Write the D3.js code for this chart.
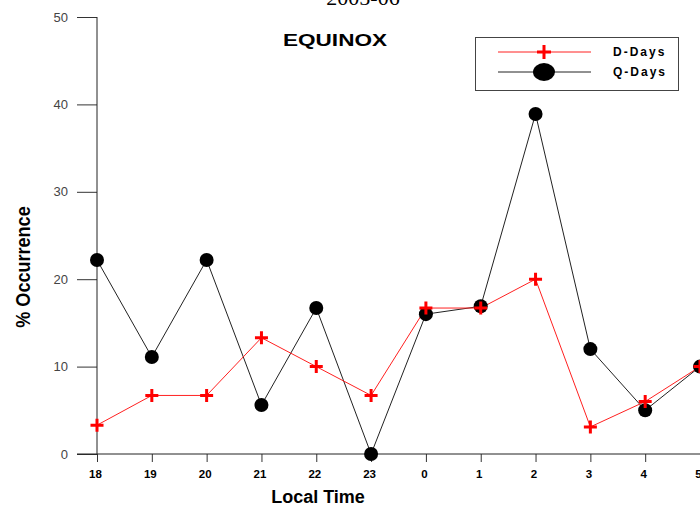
<!DOCTYPE html>
<html>
<head>
<meta charset="utf-8">
<script src="https://cdn.jsdelivr.net/npm/d3@7"></script>
<style>
body { margin: 0; background: #fff; }
svg { display: block; }
.ytick text { font-family: Arial, "Liberation Sans", sans-serif; font-size: 13px; fill: #444; }
.xtick text { font-family: Arial, "Liberation Sans", sans-serif; font-size: 11.5px; font-weight: bold; fill: #000; }
</style>
</head>
<body>
<svg></svg>
<script>
// hours along the x axis (evening through early morning)
var hours = ["18", "19", "20", "21", "22", "23", "0", "1", "2", "3", "4", "5"];
var dDays = [3.3, 6.7, 6.7, 13.3, 10, 6.7, 16.7, 16.7, 20, 3.1, 6, 10];
var qDays = [22.2, 11.1, 22.2, 5.6, 16.7, 0, 16, 16.9, 38.9, 12, 5, 10];
var yTicks = [0, 10, 20, 30, 40, 50];

var width = 700, height = 509;
var svg = d3.select("svg").attr("width", width).attr("height", height);

var x = d3.scalePoint().domain(hours).range([97, 700]);
var y = d3.scaleLinear().domain([0, 50]).range([454, 17]);

// y axis
var yAxis = svg.append("g").attr("transform", "translate(97,0)")
    .call(d3.axisLeft(y).tickValues(yTicks).tickSize(20).tickPadding(9));
yAxis.select(".domain").remove();
yAxis.selectAll(".tick").attr("class", "tick ytick");
yAxis.selectAll("line").attr("stroke", "#333");
svg.append("line").attr("x1", 97).attr("x2", 97).attr("y1", y(50)).attr("y2", y(0))
    .attr("stroke", "#222");

// x axis
var xAxis = svg.append("g").attr("transform", "translate(0,454)")
    .call(d3.axisBottom(x).tickSize(8).tickPadding(8));
xAxis.select(".domain").remove();
xAxis.selectAll(".tick").attr("class", "tick xtick");
xAxis.selectAll("line").attr("stroke", "#333");
xAxis.selectAll("text").attr("dx", -2);
svg.append("line").attr("x1", 77).attr("x2", 700).attr("y1", 454).attr("y2", 454)
    .attr("stroke", "#222");

var line = d3.line().x(function(d, i) { return x(hours[i]); }).y(function(d) { return y(d); });

svg.append("path").datum(qDays).attr("d", line)
    .attr("fill", "none").attr("stroke", "#222").attr("stroke-width", 1);
svg.append("path").datum(dDays).attr("d", line)
    .attr("fill", "none").attr("stroke", "#ff2020").attr("stroke-width", 1);

svg.selectAll("circle.q").data(qDays).enter().append("circle")
    .attr("class", "q")
    .attr("cx", function(d, i) { return x(hours[i]); })
    .attr("cy", function(d) { return y(d); })
    .attr("r", 7).attr("fill", "#000");

var plus = function(sel, s) {
  sel.append("path")
    .attr("d", "M" + (-s) + ",0H" + s + "M0," + (-s) + "V" + s)
    .attr("stroke", "#ff0000").attr("stroke-width", 3).attr("fill", "none");
};
svg.selectAll("g.d").data(dDays).enter().append("g")
    .attr("class", "d")
    .attr("transform", function(d, i) { return "translate(" + x(hours[i]) + "," + y(d) + ")"; })
    .call(plus, 6.5);

// titles
svg.append("text").attr("x", 363).attr("y", 5).attr("text-anchor", "middle")
    .attr("font-family", "'Times New Roman', 'Liberation Serif', serif").attr("font-size", 22)
    .text("2005-06");
svg.append("text").attr("x", 283).attr("y", 46)
    .attr("font-family", "Arial, 'Liberation Sans', sans-serif").attr("font-size", 17)
    .attr("font-weight", "bold").attr("textLength", 104).attr("lengthAdjust", "spacingAndGlyphs")
    .text("EQUINOX");

svg.append("text").attr("x", 318).attr("y", 503).attr("text-anchor", "middle")
    .attr("font-family", "Arial, 'Liberation Sans', sans-serif").attr("font-size", 18)
    .attr("font-weight", "bold").text("Local Time");
svg.append("text").attr("transform", "translate(30,267) rotate(-90) scale(0.86,1)").attr("text-anchor", "middle")
    .attr("font-family", "'Liberation Sans Narrow', 'Arial Narrow', sans-serif").attr("font-size", 21)
    .attr("font-weight", "bold").text("% Occurrence");

// legend
var lg = svg.append("g");
lg.append("rect").attr("x", 475.5).attr("y", 37.5).attr("width", 203).attr("height", 53)
    .attr("fill", "#fff").attr("stroke", "#444");
lg.append("line").attr("x1", 498).attr("x2", 591).attr("y1", 52).attr("y2", 52)
    .attr("stroke", "#ff2020");
lg.append("g").attr("transform", "translate(544,52)").call(plus, 7);
lg.append("line").attr("x1", 498).attr("x2", 591).attr("y1", 72).attr("y2", 72)
    .attr("stroke", "#222");
lg.append("ellipse").attr("cx", 544).attr("cy", 72).attr("rx", 11).attr("ry", 9).attr("fill", "#000");
lg.selectAll("text.lab").data(["D-Days", "Q-Days"]).enter().append("text")
    .attr("class", "lab")
    .attr("x", 613).attr("y", function(d, i) { return 56 + i * 20; })
    .attr("font-family", "Arial, 'Liberation Sans', sans-serif").attr("font-size", 12)
    .attr("font-weight", "bold").attr("letter-spacing", 2)
    .text(function(d) { return d; });
</script>
</body>
</html>
